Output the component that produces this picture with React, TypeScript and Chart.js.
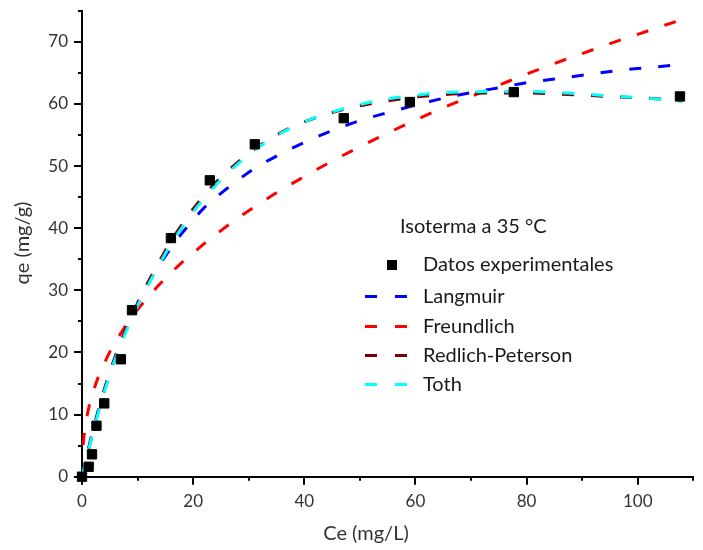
import React, { useEffect, useRef } from "react";
import { Chart, registerables } from "chart.js";

Chart.register(...registerables);

// ---- data ----
const expCe = [0, 1.2, 1.8, 2.6, 4.0, 7.0, 9.0, 16.0, 23.0, 31.1, 47.1, 59.0, 77.7, 107.6];
const expQe = [0, 1.6, 3.6, 8.2, 11.8, 18.9, 26.8, 38.4, 47.7, 53.5, 57.7, 60.3, 61.9, 61.2];

const curveCe = [0, 0.2, 0.5, 1, 2, 3, 4, 5, 6, 7, 8, 10, 12, 14, 16, 18, 20, 22, 25, 28, 31, 35, 40, 45, 50, 55, 60, 65, 70, 75, 80, 85, 90, 95, 100, 105, 108];
const langmuirQe = [0, 0.85, 2.0, 3.9, 7.6, 10.9, 14.0, 16.8, 19.4, 21.7, 23.9, 27.9, 31.3, 34.2, 36.8, 39.2, 41.3, 43.3, 45.6, 47.7, 49.6, 51.6, 53.8, 55.7, 57.3, 58.6, 59.8, 60.9, 61.8, 62.6, 63.4, 64.0, 64.6, 65.2, 65.7, 66.1, 66.4];
const freundlichQe = [null, 5.1, 7.6, 10.2, 13.6, 16.2, 18.2, 20.1, 21.7, 23.1, 24.5, 26.9, 29.0, 31.0, 32.8, 34.5, 36.0, 37.5, 39.6, 41.6, 43.4, 45.7, 48.3, 50.8, 53.1, 55.3, 57.4, 59.4, 61.2, 63.0, 64.8, 66.5, 68.1, 69.7, 71.2, 72.7, 73.6];
const redlichQe = [0, 0.75, 1.9, 3.7, 7.3, 10.7, 13.8, 16.7, 19.3, 21.7, 23.9, 27.9, 31.5, 34.8, 37.9, 40.6, 43.1, 45.3, 48.2, 50.6, 52.7, 55.0, 57.1, 58.6, 59.7, 60.5, 61.1, 61.5, 61.7, 61.75, 61.75, 61.6, 61.4, 61.2, 61.0, 60.75, 60.6];
const tothQe = [0, 0.7, 1.8, 3.6, 7.2, 10.5, 13.6, 16.4, 19.0, 21.3, 23.5, 27.5, 31.0, 34.3, 37.4, 40.1, 42.6, 44.8, 47.8, 50.3, 52.5, 54.9, 57.1, 58.7, 59.9, 60.8, 61.4, 61.8, 61.95, 62.0, 62.0, 61.85, 61.6, 61.3, 61.0, 60.7, 60.4];

const xTicks = [0, 20, 40, 60, 80, 100];
const yTicks = [0, 10, 20, 30, 40, 50, 60, 70];

const xTitle = "Ce (mg/L)";
const yTitle = "qe (mg/g)";
const legendTitle = "Isoterma a 35 °C";
const seriesNames = ["Datos experimentales", "Langmuir", "Freundlich", "Redlich-Peterson", "Toth"];
const seriesColors = ["#000000", "#0000ff", "#ff0000", "#800000", "#00ffff"];

const FONT = "Lato, 'Open Sans', sans-serif";
const TEXT_COLOR = "#333333";

function toPoints(xs: number[], ys: (number | null)[]) {
  return xs.map((x, i) => ({ x, y: ys[i] }));
}

const decorPlugin = {
  id: "decor",
  afterDraw(chart: any) {
    const ctx = chart.ctx as CanvasRenderingContext2D;
    const xs = chart.scales.x;
    const ys = chart.scales.y;
    const area = chart.chartArea;
    ctx.save();
    ctx.strokeStyle = "#000";
    ctx.lineWidth = 2;
    ctx.beginPath();
    for (let v = xs.min; v <= xs.max + 1e-9; v += 10) {
      const px = Math.round(xs.getPixelForValue(v));
      const len = xTicks.includes(v) ? 8 : 4;
      ctx.moveTo(px, area.bottom);
      ctx.lineTo(px, area.bottom + len);
    }
    for (let v = ys.min; v <= ys.max + 1e-9; v += 5) {
      const py = Math.round(ys.getPixelForValue(v));
      const len = yTicks.includes(v) ? 8 : 4;
      ctx.moveTo(area.left, py);
      ctx.lineTo(area.left - len, py);
    }
    ctx.stroke();

    // axis titles
    ctx.fillStyle = TEXT_COLOR;
    ctx.font = `20px ${FONT}`;
    ctx.textAlign = "center";
    ctx.textBaseline = "middle";
    ctx.fillText(xTitle, 366, 534);
    ctx.save();
    ctx.translate(23, 243);
    ctx.rotate(-Math.PI / 2);
    ctx.fillText(yTitle, 0, 0);
    ctx.restore();

    // legend
    ctx.font = `20px ${FONT}`;
    ctx.fillStyle = "#1a1a1a";
    ctx.textBaseline = "middle";
    ctx.textAlign = "left";
    ctx.fillText(legendTitle, 400, 227);
    const rowY = [265, 296.5, 326.5, 355.5, 384.5];
    seriesNames.forEach((name, i) => {
      const y = rowY[i];
      if (i === 0) {
        ctx.fillStyle = "#000";
        ctx.fillRect(387, y - 5, 10, 10);
      } else {
        ctx.strokeStyle = seriesColors[i];
        ctx.lineWidth = 3;
        ctx.setLineDash([12, 18]);
        ctx.beginPath();
        ctx.moveTo(365, y);
        ctx.lineTo(408, y);
        ctx.stroke();
        ctx.setLineDash([]);
      }
      ctx.fillStyle = "#1a1a1a";
      ctx.fillText(name, 423, y);
    });
    ctx.restore();
  },
};

export default function App() {
  const ref = useRef<HTMLCanvasElement | null>(null);

  useEffect(() => {
    document.body.style.margin = "0";
    const canvas = ref.current;
    if (!canvas) return;
    const lineDs = (label: string, data: (number | null)[], color: string, order: number) => ({
      type: "scatter" as const,
      label,
      data: toPoints(curveCe, data),
      showLine: true,
      borderColor: color,
      backgroundColor: color,
      borderWidth: 3,
      borderDash: [12, 17],
      pointRadius: 0,
      pointHoverRadius: 0,
      cubicInterpolationMode: "monotone" as const,
      clip: false as any,
      order,
    });
    const chart = new Chart(canvas, {
      type: "scatter",
      data: {
        datasets: [
          {
            label: seriesNames[0],
            data: toPoints(expCe, expQe),
            pointStyle: "rect",
            pointRadius: 6.6,
            borderWidth: 1,
            borderColor: "#000",
            backgroundColor: "#000",
            showLine: false,
            clip: false as any,
            order: 0,
          },
          lineDs(seriesNames[1], langmuirQe, seriesColors[1], 3),
          lineDs(seriesNames[2], freundlichQe, seriesColors[2], 4),
          lineDs(seriesNames[3], redlichQe, seriesColors[3], 2),
          lineDs(seriesNames[4], tothQe, seriesColors[4], 1),
        ] as any,
      },
      options: {
        responsive: false,
        animation: false,
        layout: { padding: { top: 10.7, right: 9.7, left: 0, bottom: 0 } },
        plugins: { legend: { display: false }, tooltip: { enabled: false } },
        scales: {
          x: {
            type: "linear",
            min: 0,
            max: 110,
            grid: { display: false, drawTicks: false },
            border: { display: true, color: "#000", width: 2 },
            ticks: {
              stepSize: 20,
              padding: 15,
              color: TEXT_COLOR,
              font: { family: FONT, size: 17 },
              maxRotation: 0,
            },
            afterBuildTicks: (s: any) => {
              s.ticks = xTicks.map((v) => ({ value: v }));
            },
            afterFit: (s: any) => {
              s.height = 73.3;
              s.paddingLeft = 0;
              s.paddingRight = 0;
            },
          },
          y: {
            type: "linear",
            min: 0,
            max: 75,
            grid: { display: false, drawTicks: false },
            border: { display: true, color: "#000", width: 2 },
            ticks: {
              stepSize: 10,
              padding: 14,
              color: TEXT_COLOR,
              font: { family: FONT, size: 17 },
            },
            afterBuildTicks: (s: any) => {
              s.ticks = yTicks.map((v) => ({ value: v }));
            },
            afterFit: (s: any) => {
              s.width = 82;
              s.paddingTop = 0;
              s.paddingBottom = 0;
            },
          },
        },
      },
      plugins: [decorPlugin],
    });
    return () => chart.destroy();
  }, []);

  return (
    <div style={{ width: 703, height: 550, position: "relative" }}>
      <canvas ref={ref} width={703} height={550} />
    </div>
  );
}
